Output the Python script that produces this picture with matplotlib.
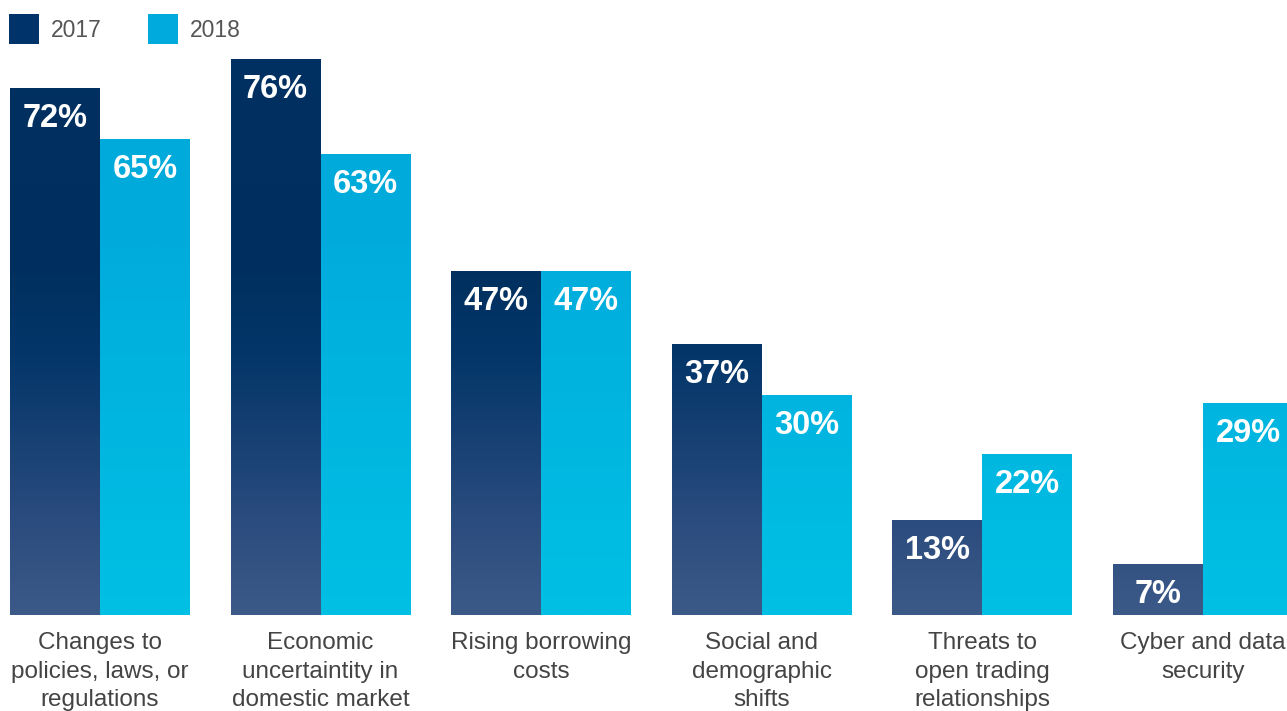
import numpy as np
import matplotlib.pyplot as plt
from matplotlib.colors import LinearSegmentedColormap, Normalize
from matplotlib.lines import Line2D

plt.rcParams['font.family'] = ['Liberation Sans', 'DejaVu Sans']

categories = [
    "Changes to\npolicies, laws, or\nregulations",
    "Economic\nuncertaintity in\ndomestic market",
    "Rising borrowing\ncosts",
    "Social and\ndemographic\nshifts",
    "Threats to\nopen trading\nrelationships",
    "Cyber and data\nsecurity",
]
vals_2017 = [72, 76, 47, 37, 13, 7]
vals_2018 = [65, 63, 47, 30, 22, 29]
series_names = ["2017", "2018"]

Y_MAX = 84.0

# gradients run over the shared value axis, so short bars are lighter
cmap_2017 = LinearSegmentedColormap.from_list(
    "navy", [(0.0, "#3c5a88"), (0.15, "#2b4c7e"), (0.3, "#153f72"),
             (0.42, "#04366a"), (0.55, "#00305f"), (1.0, "#002f62")])
cmap_2018 = LinearSegmentedColormap.from_list(
    "cyan", [(0.0, "#00c0e4"), (0.6, "#00acdc"), (1.0, "#00a8da")])
legend_colors = ["#00336a", "#00aadc"]

fig = plt.figure(figsize=(12.87, 7.11), dpi=100)
ax = fig.add_axes([0, 96 / 711, 1, 615 / 711])

x = np.arange(len(categories))
width = 90 / 220.6
norm = Normalize(0, Y_MAX)


def gradient_bars(ax, xpos, values, cmap):
    bars = ax.bar(xpos, values, width, color="none", edgecolor="none")
    for bar in bars:
        x0, y0 = bar.get_x(), bar.get_y()
        w, h = bar.get_width(), bar.get_height()
        grad = np.linspace(0, h, 512).reshape(-1, 1)
        im = ax.imshow(grad, extent=[x0, x0 + w, y0, y0 + h], origin="lower",
                       aspect="auto", cmap=cmap, norm=norm, zorder=2,
                       interpolation="bilinear")
        im.set_clip_path(bar)
        ax.annotate(f"{int(h)}%", (x0 + w / 2, h), xytext=(0, -22),
                    textcoords="offset points", ha="center", va="center",
                    color="white", fontsize=23.5, fontweight="bold", zorder=3)
    return bars


gradient_bars(ax, x - width / 2, vals_2017, cmap_2017)
gradient_bars(ax, x + width / 2, vals_2018, cmap_2018)

ax.set_xlim(-100 / 220.6, (1287 - 100) / 220.6)
ax.set_ylim(0, Y_MAX)
ax.set_xticks(x)
ax.set_xticklabels(categories, fontsize=17.5, color="#444444", linespacing=1.38)
ax.tick_params(axis="x", length=0, pad=12.5)
ax.set_yticks([])
for s in ax.spines.values():
    s.set_visible(False)

handles = [Line2D([], [], marker="s", linestyle="none", markersize=21,
                  markerfacecolor=c, markeredgewidth=0) for c in legend_colors]
fig.legend(handles, series_names, loc="upper left",
           bbox_to_anchor=(10 / 1287, 1 - 19 / 711), ncol=2, frameon=False,
           fontsize=16.5, handlelength=1.25, handletextpad=0.55,
           columnspacing=2.05, borderpad=0, borderaxespad=0,
           labelcolor="#555555")

fig.savefig("out.png", dpi=100)
